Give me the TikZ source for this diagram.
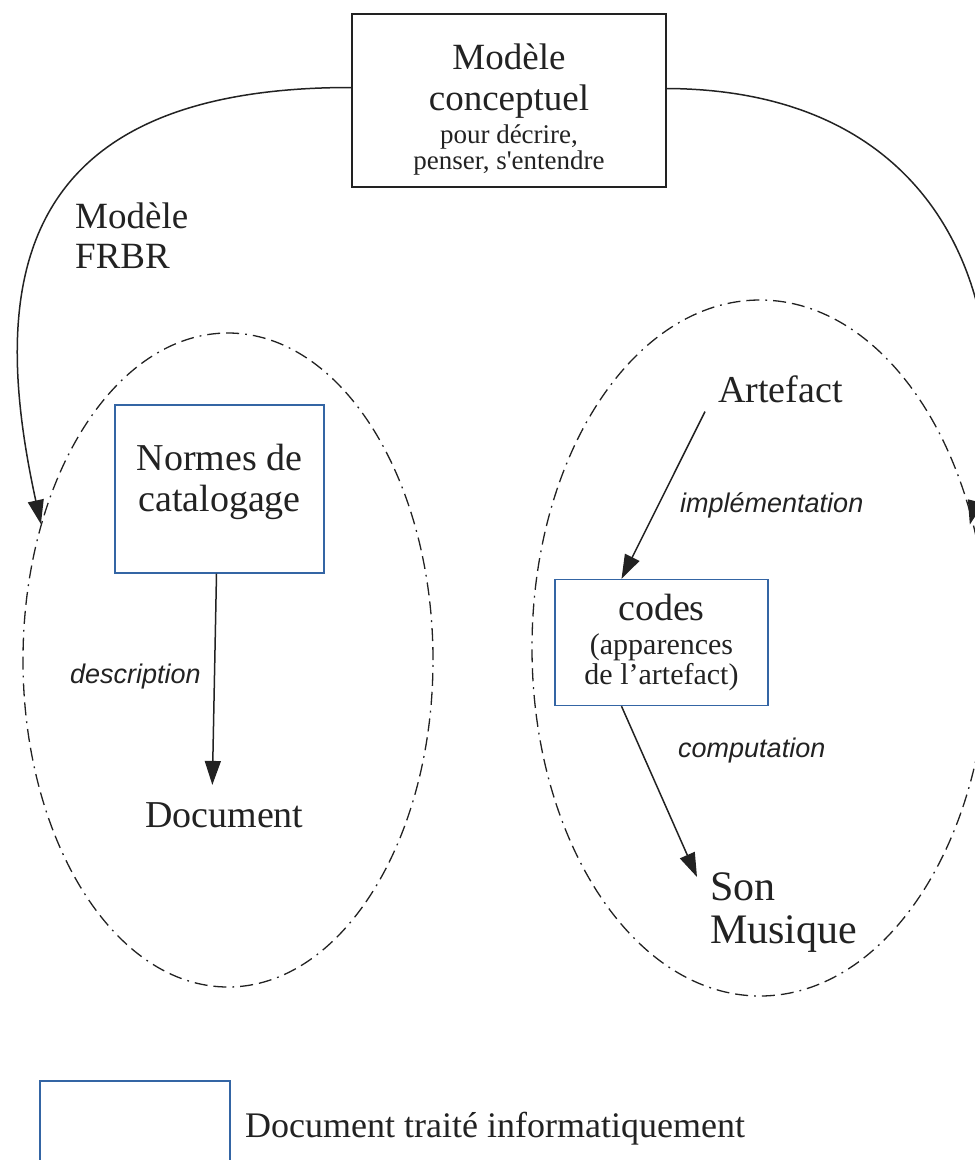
\documentclass[tikz,border=0pt]{standalone}
\usepackage{fontspec}
\setmainfont{Liberation Serif}
\setsansfont{Liberation Sans}
\usepackage{xcolor}
\usetikzlibrary{arrows.meta, shapes.geometric}
\definecolor{inkgray}{HTML}{222222}
\definecolor{boxblue}{HTML}{3465A4}
\tikzstyle{arrowline} = [line width=1.5pt, inkgray, -{Triangle[length=24pt,width=16pt]}]
\tikzstyle{zone} = [ellipse, draw=inkgray, line width=1.3pt, inner sep=0pt, dash pattern=on 13pt off 6pt on 13pt off 6pt on 1.8pt off 6pt]
\tikzstyle{docbox} = [draw=boxblue, line width=1.4pt, align=center, inner sep=0pt]
\tikzstyle{bigtext} = [inner sep=0pt, text=inkgray, font=\fontsize{38}{41}\selectfont]
\tikzstyle{arclabel} = [inner sep=0pt, text=inkgray, font=\sffamily\itshape\fontsize{27}{30}\selectfont]

\begin{document}
\begin{tikzpicture}[x=1pt, y=-1pt]
		\useasboundingbox (0,0) rectangle (975,1160);
		\clip (0,0) rectangle (975,1160);

		% modele conceptuel
		\node[draw=inkgray, line width=1.4pt, align=center, text=inkgray, inner sep=0pt,
			minimum width=314, minimum height=173, font=\fontsize{37}{41}\selectfont] (top) at (509,100.5)
			{\rule{0pt}{44pt}Modèle\\conceptuel\\[-8pt]{\fontsize{27}{26}\selectfont pour décrire,}\\[-15pt]{\fontsize{27}{26}\selectfont penser, s\textquotesingle entendre}};

		% les deux zones
		\node[zone, minimum width=410, minimum height=654] (lzone) at (228,660) {};
		\node[zone, minimum width=456, minimum height=696] (rzone) at (760,648) {};

		\draw[arrowline] ([yshift=13pt]top.west) .. controls (0,87) and (-8,300) .. (lzone.144);
		\draw[arrowline] ([yshift=12pt]top.east) .. controls (960,90) and (1020,330) .. ([xshift=-4pt]rzone.30);
		\node[bigtext, align=left, anchor=north west, font=\fontsize{37}{40}\selectfont] (frbr) at (75,203) {Modèle\\FRBR};

		% cote catalogue
		\node[docbox, text=inkgray, minimum width=209, minimum height=168, font=\fontsize{38}{41}\selectfont] (normes) at (219.5,489)
			{Normes de\\catalogage\rule[-23pt]{0pt}{23pt}};
		\node[bigtext, anchor=base west] (doc) at (145,827) {Document};
		\draw[arrowline] ([xshift=-3pt]normes.south) -- ([xshift=-12pt,yshift=17pt]doc.north);
		\node[arclabel, anchor=base west] (desc) at (70,683) {description};

		% cote musique
		\node[bigtext, anchor=base west] (art) at (718,402) {Artefact};
		\node[docbox, text=inkgray, minimum width=213, minimum height=126, font=\fontsize{30}{30}\selectfont] (codes) at (661.5,642.5)
			{{\fontsize{38}{30}\selectfont codes}\\[4pt](apparences\\de l’artefact)};
		\draw[arrowline] ([xshift=-13pt,yshift=-9pt]art.south west) -- ([xshift=-40pt]codes.north);
		\node[arclabel, anchor=base west] (impl) at (680,512) {implémentation};

		\node[bigtext, align=left, anchor=north west, font=\fontsize{42}{43}\selectfont] (son) at (710,872) {Son\\Musique};
		\draw[arrowline] ([xshift=-40pt]codes.south) -- ([xshift=-13pt,yshift=-5pt]son.north west);
		\node[arclabel, anchor=base west] (comp) at (678,757) {computation};

		% legende
		\node[docbox, minimum width=190, minimum height=100] (leg) at (135,1131) {};
		\node[bigtext, anchor=base west, font=\fontsize{36}{40}\selectfont] (legtext) at (245,1137) {Document traité informatiquement};

	\end{tikzpicture}
\end{document}
